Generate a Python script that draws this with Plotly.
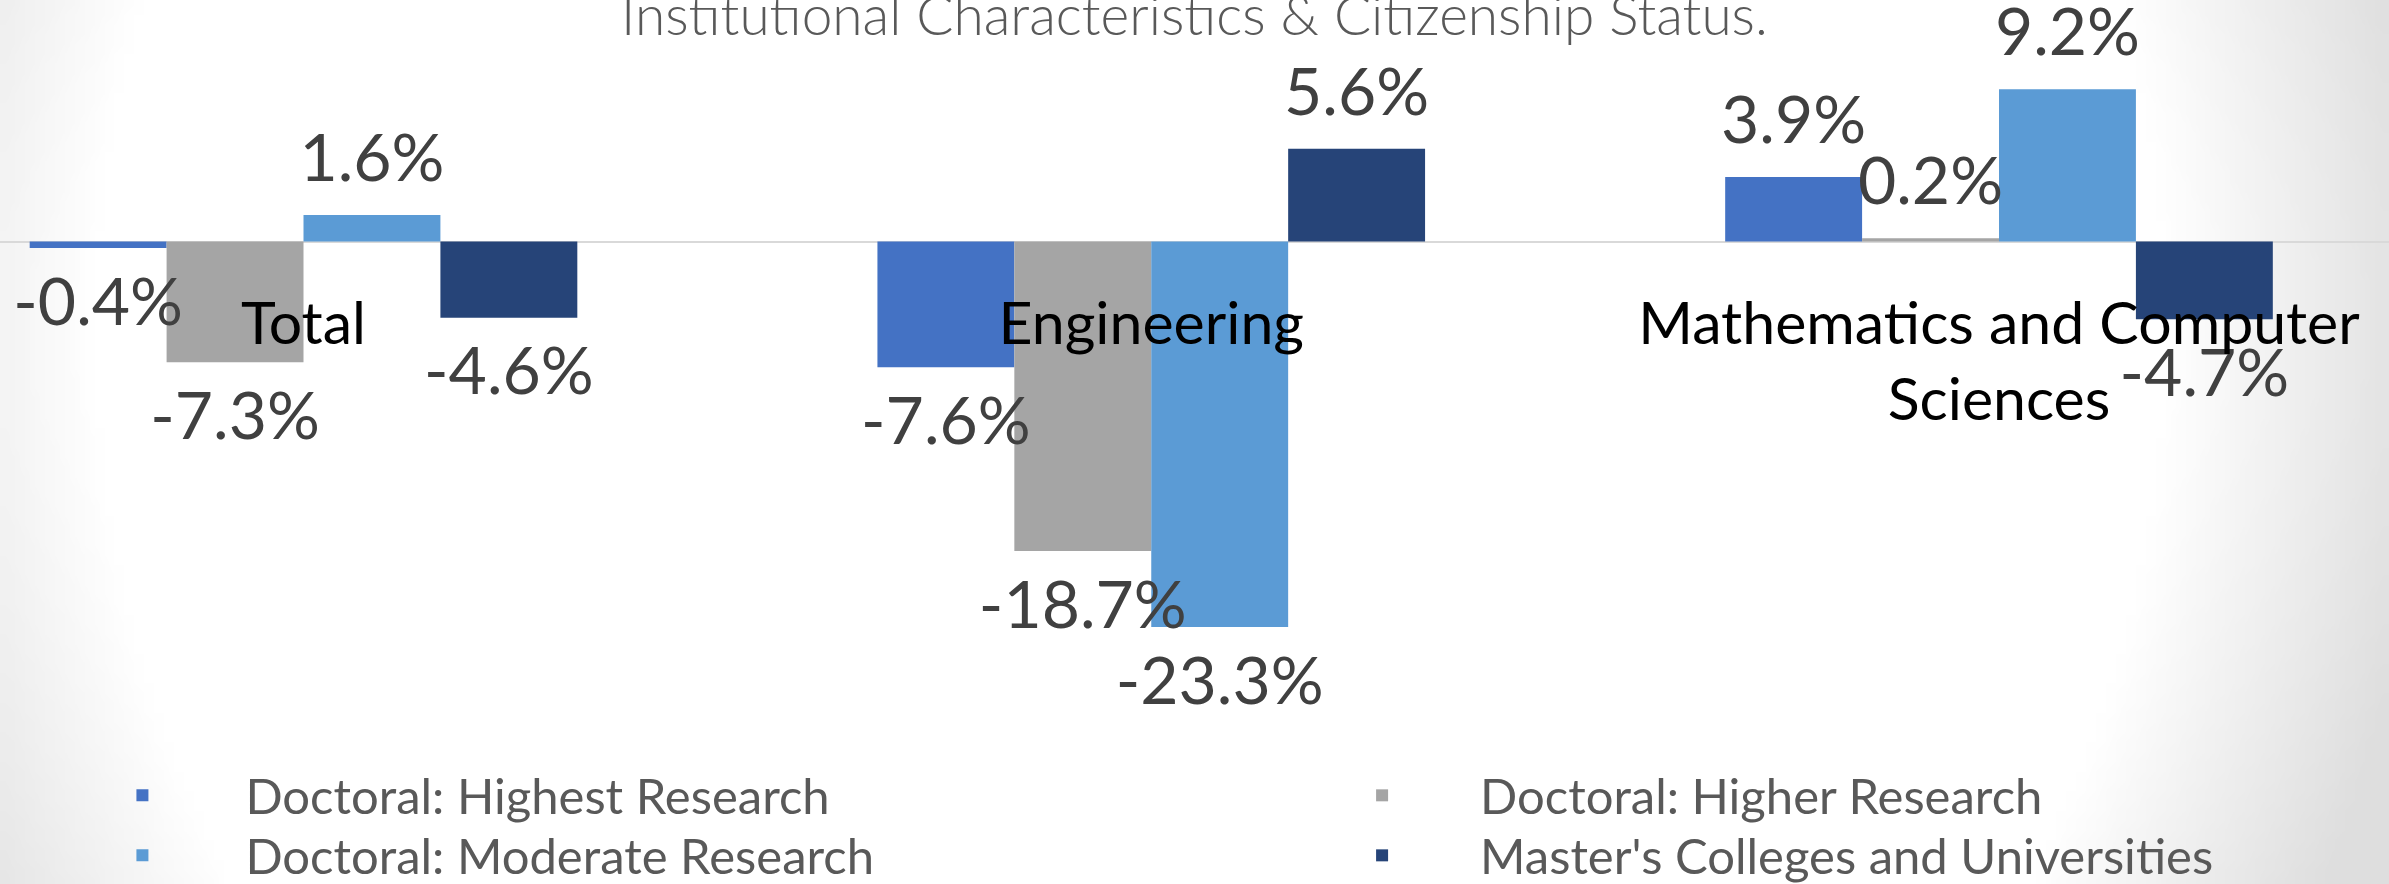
import base64
import struct
import zlib

import numpy as np
import plotly.graph_objects as go

# ---------------- data ----------------
categories = ["Total", "Engineering", "Mathematics and Computer Sciences"]
category_ticktext = ["Total", "Engineering", "Mathematics and Computer<br>Sciences"]
series_names = [
    "Doctoral: Highest Research",
    "Doctoral: Higher Research",
    "Doctoral: Moderate Research",
    "Master's Colleges and Universities",
]
highest_research = [-0.4, -7.6, 3.9]
higher_research = [-7.3, -18.7, 0.2]
moderate_research = [1.6, -23.3, 9.2]
masters_colleges = [-4.6, 5.6, -4.7]
series_values = [highest_research, higher_research, moderate_research, masters_colleges]
series_colors = ["#4472C4", "#A5A5A5", "#5B9BD5", "#264478"]
title_text = "Institutional Characteristics &amp; Citizenship Status."

W, H = 2389, 884
FONT = "Lato"


# ---------------- background (slide vignette) ----------------
def gradient_png_uri():
    gw, gh = 240, 90
    xs = (np.arange(gw) + 0.5) / gw * W
    ys = (np.arange(gh) + 0.5) / gh * H
    X, Y = np.meshgrid(xs, ys)
    d = np.sqrt(((X - 1130) / 1300) ** 2 + ((Y - 330) / 1400) ** 2)
    v = 255 - 160 * np.clip(d - 0.80, 0, None)
    arr = np.clip(v, 222, 255).astype(np.uint8)
    raw = b"".join(b"\x00" + row.tobytes() for row in arr)

    def chunk(t, data):
        c = struct.pack(">I", len(data)) + t + data
        return c + struct.pack(">I", zlib.crc32(t + data) & 0xFFFFFFFF)

    png = (b"\x89PNG\r\n\x1a\n"
           + chunk(b"IHDR", struct.pack(">IIBBBBB", gw, gh, 8, 0, 0, 0, 0))
           + chunk(b"IDAT", zlib.compress(raw, 9))
           + chunk(b"IEND", b""))
    return "data:image/png;base64," + base64.b64encode(png).decode()


fig = go.Figure()

# legend grid: 2 columns x 2 rows, one legend box per entry
legend_ids = ["legend", "legend2", "legend3", "legend4"]
legend_cols_x = [0.0165, 0.5375]
legend_rows_y = [0.1437, 0.0758]

# bars
for i, (name, vals, col) in enumerate(zip(series_names, series_values, series_colors)):
    fig.add_trace(go.Bar(
        x=categories, y=vals, name=name,
        marker=dict(color=col, line=dict(width=0)),
        legend=legend_ids[i],
        hoverinfo="skip",
    ))

# data labels drawn above all bars (grouped scatter text, invisible markers set the gap)
for name, vals in zip(series_names, series_values):
    fig.add_trace(go.Scatter(
        x=categories, y=vals, mode="markers+text",
        marker=dict(size=[26 if v >= 0 else 42 for v in vals],
                    color="rgba(0,0,0,0)", opacity=0, line=dict(width=0)),
        texttemplate="%{y:.1f}%",
        textposition=["top center" if v >= 0 else "bottom center" for v in vals],
        textfont=dict(family=FONT, size=66, color="#404040"),
        showlegend=False, hoverinfo="skip", cliponaxis=False,
    ))

zero_px = 241.5
px_per_unit = 16.55
y_top = zero_px / px_per_unit
y_bot = -(H - zero_px) / px_per_unit

cat_px = [303.5, 1151.8, 1999.0]
unit_px = (cat_px[2] - cat_px[0]) / 2
x_left = -cat_px[0] / unit_px
x_right = 2 + (W - cat_px[2]) / unit_px

legend_font = dict(family=FONT, size=49, color="#595959")
legend_layouts = {}
for i, lid in enumerate(legend_ids):
    col, row = i % 2, i // 2
    legend_layouts[lid] = dict(
        orientation="v", x=legend_cols_x[col], y=legend_rows_y[row],
        xanchor="left", yanchor="top", font=legend_font,
        itemwidth=196 if col == 0 else 186,
        bgcolor="rgba(0,0,0,0)", tracegroupgap=0,
    )

fig.update_layout(
    width=W, height=H, autosize=False,
    margin=dict(l=0, r=0, t=0, b=0, pad=0, autoexpand=False),
    paper_bgcolor="white",
    plot_bgcolor="rgba(0,0,0,0)",
    barmode="group",
    bargap=0.354,
    bargroupgap=0,
    scattermode="group",
    font=dict(family=FONT),
    images=[dict(source=gradient_png_uri(), xref="paper", yref="paper",
                 x=0, y=1, sizex=1, sizey=1, sizing="stretch",
                 xanchor="left", yanchor="top", layer="below")],
    xaxis=dict(
        type="category", range=[x_left, x_right],
        anchor="free", position=1 - zero_px / H,
        showline=False, showgrid=False, zeroline=False, ticks="",
        tickmode="array", tickvals=categories, ticktext=category_ticktext,
        tickfont=dict(family=FONT, size=59, color="#000000"),
        ticklabelstandoff=42, automargin=False,
        fixedrange=True,
    ),
    yaxis=dict(
        range=[y_bot, y_top], automargin=False,
        showgrid=False, showticklabels=False, ticks="",
        zeroline=True, zerolinecolor="#D9D9D9", zerolinewidth=2,
        fixedrange=True,
    ),
    annotations=[dict(
        text=title_text, xref="paper", yref="paper", x=0.5, y=1,
        xanchor="center", yanchor="top", yshift=21, showarrow=False,
        font=dict(family=FONT, size=55, color="#595959", weight=300),
    )],
    showlegend=True,
    **legend_layouts,
)

fig.write_html(
    "out.html",
    config={"displayModeBar": False},
    post_script="document.body.style.margin='0px';",
)
